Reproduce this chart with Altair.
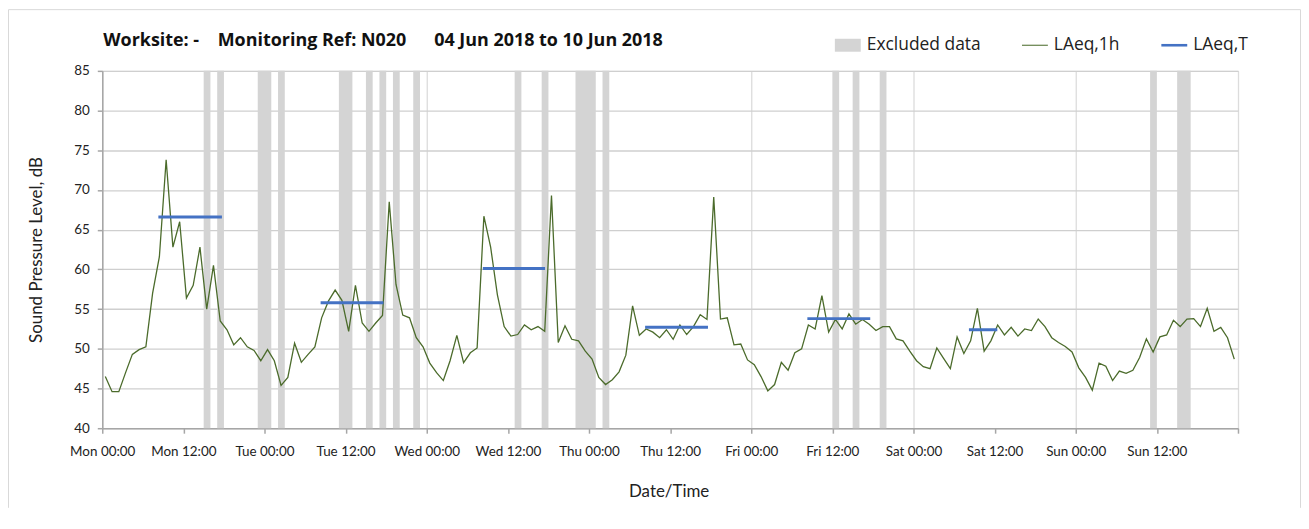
import json
import altair as alt
import pandas as pd

# ---------------- data ----------------
hours = list(range(168))
laeq_1h = [
    46.5, 44.6, 44.6, 47.0, 49.3, 49.9, 50.25, 57.0, 61.6, 73.8, 62.8, 66.0, 56.4, 58.0,
    62.8, 55.0, 60.5, 53.5, 52.4, 50.5, 51.4, 50.25, 49.8, 48.5, 49.9, 48.5, 45.4, 46.4,
    50.7, 48.3, 49.3, 50.25, 53.9, 56.0, 57.4, 56.1, 52.2, 58.0, 53.25, 52.2, 53.25, 54.2,
    68.5, 58.1, 54.25, 53.9, 51.4, 50.25, 48.2, 47.0, 46.0, 48.5, 51.7, 48.25, 49.5, 50.1,
    66.7, 62.8, 56.8, 52.8, 51.6, 51.8, 53.0, 52.4, 52.8, 52.2, 69.3, 50.8, 52.9, 51.2,
    51.0, 49.7, 48.7, 46.4, 45.5, 46.1, 47.1, 49.2, 55.4, 51.7, 52.5, 52.1, 51.4, 52.4,
    51.2, 53.0, 51.8, 52.8, 54.3, 53.7, 69.1, 53.75, 53.9, 50.5, 50.6, 48.6, 48.0, 46.5,
    44.7, 45.5, 48.3, 47.3, 49.5, 50.0, 53.0, 52.5, 56.7, 52.1, 53.7, 52.5, 54.4, 53.1,
    53.7, 53.1, 52.3, 52.8, 52.8, 51.25, 51.0, 49.7, 48.5, 47.75, 47.5, 50.1, 48.8, 47.5,
    51.5, 49.4, 51.0, 55.1, 49.7, 51.0, 53.0, 51.75, 52.7, 51.6, 52.5, 52.3, 53.75, 52.8,
    51.4, 50.8, 50.3, 49.6, 47.6, 46.4, 44.8, 48.2, 47.8, 46.0, 47.2, 46.9, 47.3, 48.9,
    51.25, 49.6, 51.5, 51.75, 53.6, 52.8, 53.75, 53.8, 52.8, 55.1, 52.2, 52.7, 51.4, 48.7,
]
excl_start = [15, 17, 23, 26, 35, 39, 41, 43, 46, 61, 65, 70, 74, 108, 111, 115, 155, 159]
excl_end = [16, 18, 25, 27, 37, 40, 42, 44, 47, 62, 66, 73, 75, 109, 112, 116, 156, 161]
laeqT_start = [8.3, 32.3, 56.3, 80.3, 104.3, 128.2]
laeqT_end = [17.7, 41.6, 65.5, 89.6, 113.6, 132.4]
laeqT_value = [66.6, 55.8, 60.1, 52.7, 53.8, 52.4]
tick_labels = [
    "Mon 00:00", "Mon 12:00", "Tue 00:00", "Tue 12:00", "Wed 00:00", "Wed 12:00",
    "Thu 00:00", "Thu 12:00", "Fri 00:00", "Fri 12:00", "Sat 00:00", "Sat 12:00",
    "Sun 00:00", "Sun 12:00",
]
series_names = ["Excluded data", "LAeq,1h", "LAeq,T"]
series_colors = ["#d4d4d4", "#4b6b2b", "#4472c4"]

# ---------------- tables ----------------
line_df = pd.DataFrame({"t": [h + 0.45 for h in hours], "v": laeq_1h, "series": "LAeq,1h"})
excl_df = pd.DataFrame({"s": excl_start, "e": excl_end, "series": "Excluded data"})
lt_df = pd.DataFrame({"s": laeqT_start, "e": laeqT_end, "v": laeqT_value, "series": "LAeq,T"})

FONT = "Lato"
FONT2 = "Open Sans"
W, H = 1141, 359
PADL, PADT, PADR, PADB = 94.7, 62, 1299 - 94.7 - 1141, 80

xscale = alt.Scale(domain=[0, 168], nice=False, zero=False)
yscale = alt.Scale(domain=[40, 85], nice=False, zero=False)
cscale = alt.Scale(domain=series_names, range=series_colors)

label_expr = ("datum.value < 168 ? " + json.dumps(tick_labels).replace('"', "'")
              + "[round(datum.value / 12)] : ''")

xaxis = alt.Axis(
    values=list(range(0, 169, 12)), labelExpr=label_expr, title="Date/Time",
    titleX=569, titleY=64, titleAlign="center", titleBaseline="middle",
    titleFont=FONT, titleFontSize=17, titleFontWeight="normal", titleColor="#222",
    labelFont=FONT, labelFontSize=13.5, labelColor="#222", labelPadding=11,
    labelFlush=False, labelOverlap=False,
    domainColor="#a6a6a6", domainWidth=1.5, tickColor="#a6a6a6", tickSize=5, tickWidth=1.5,
    grid=True, gridColor="#dcdcdc", gridWidth=1.3,
    gridOpacity={"condition": {"test": "datum.value % 24 === 0", "value": 1}, "value": 0},
)
yaxis = alt.Axis(
    values=list(range(40, 86, 5)), title="Sound Pressure Level, dB",
    titleX=-66, titleY=H / 2, titleAngle=270, titleAlign="center", titleBaseline="middle",
    titleFont=FONT, titleFontSize=17, titleFontWeight="normal", titleColor="#222",
    labelFont=FONT, labelFontSize=13.5, labelColor="#222", labelPadding=8,
    labelOverlap=False, labelFlush=False,
    domainColor="#a6a6a6", domainWidth=1.5, tickColor="#a6a6a6", tickSize=5, tickWidth=1.5,
    grid=True, gridColor="#cfcfcf", gridWidth=1.3,
)

legend = alt.Legend(
    orient="none", legendX=736, legendY=-39, direction="horizontal", title=None,
    labelFont=FONT2, labelFontSize=17.5, labelColor="#222", labelOffset=6,
    symbolSize=676, columnPadding=41, padding=0,
    symbolType={"expr": "datum.value === 'Excluded data' ? 'M-1,-0.5H1V0.5H-1Z' : (datum.value === 'LAeq,1h' ? 'M-1,-0.04H1V0.04H-1Z' : 'M-1,-0.1H1V0.1H-1Z')"},
    symbolFillColor={"expr": "scale('color', datum.value)"},
    symbolStrokeWidth=0, symbolOpacity=1,
)

bands = alt.Chart(excl_df).mark_rect(opacity=1).encode(
    x=alt.X("s:Q", scale=xscale, axis=xaxis),
    x2="e:Q",
    y=alt.Y(datum=40, scale=yscale, axis=yaxis),
    y2=alt.Y2(datum=85),
    color=alt.Color("series:N", scale=cscale, legend=legend),
)

line = alt.Chart(line_df).mark_line(strokeWidth=1.3).encode(
    x=alt.X("t:Q", scale=xscale, axis=xaxis),
    y=alt.Y("v:Q", scale=yscale, axis=yaxis),
    color=alt.Color("series:N", scale=cscale, legend=legend),
)

laeqT = alt.Chart(lt_df).mark_rule(strokeWidth=3).encode(
    x=alt.X("s:Q", scale=xscale, axis=xaxis),
    x2="e:Q",
    y=alt.Y("v:Q", scale=yscale, axis=yaxis),
    color=alt.Color("series:N", scale=cscale, legend=legend),
)

# faint chart-area frame (left, top, right edges)
frame_l = alt.Chart().mark_rule(color="#d9d9d9", strokeWidth=1).encode(
    x=alt.value(-PADL + 0.5), y=alt.value(-PADT + 0.5), y2=alt.value(H + PADB))
frame_t = alt.Chart().mark_rule(color="#d9d9d9", strokeWidth=1).encode(
    x=alt.value(-PADL + 0.5), x2=alt.value(W + PADR - 0.5), y=alt.value(-PADT + 0.5))
frame_r = alt.Chart().mark_rule(color="#d9d9d9", strokeWidth=1).encode(
    x=alt.value(W + PADR - 0.5), y=alt.value(-PADT + 0.5), y2=alt.value(H + PADB))

title = alt.TitleParams(
    text="Worksite: -\u00a0\u00a0\u00a0\u00a0Monitoring Ref: N020\u00a0\u00a0\u00a0\u00a0\u00a0\u00a004 Jun 2018 to 10 Jun 2018",
    anchor="start", frame="group", font=FONT2, fontSize=18, fontWeight="bold",
    color="#111", offset=18, dy=59, dx=1,
)

chart = alt.layer(bands, line, laeqT, frame_l, frame_t, frame_r).properties(
    width=W, height=H, title=title,
    autosize=alt.AutoSizeParams(type="none"),
    padding={"left": PADL, "top": PADT, "right": PADR, "bottom": PADB},
).configure_view(stroke="transparent").configure(background="white")

chart.save("out.html", embed_options={"renderer": "svg", "actions": False})
